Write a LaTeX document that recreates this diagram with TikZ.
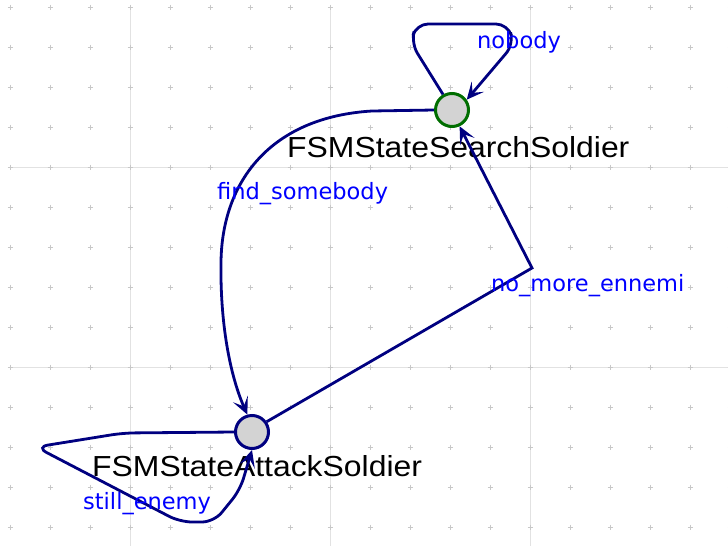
\documentclass[tikz,border=0pt]{standalone}
\usepackage{fontspec}
\usepackage{graphicx}
\setmainfont{Liberation Sans}
\newfontfamily\edgefont{DejaVu Sans}
\usetikzlibrary{arrows.meta}
\definecolor{edgenavy}{RGB}{0,0,128}
\definecolor{searchgreen}{RGB}{0,110,0}
\definecolor{stategrey}{RGB}{211,211,211}
\definecolor{labelblue}{RGB}{0,0,255}
\definecolor{gridgrey}{RGB}{226,226,226}
\definecolor{dotgrey}{RGB}{200,200,200}

\begin{document}
\begin{tikzpicture}[
  x=1pt,y=-1pt,
  >={Stealth[length=17pt,width=16pt,inset=8pt]},
  state/.style={circle,draw=edgenavy,line width=3pt,fill=stategrey,minimum size=33pt,inner sep=0pt},
  edge/.style={->,draw=edgenavy,line width=2.8pt,rounded corners=12pt},
  statename/.style={anchor=base west,inner sep=0pt,font=\fontsize{29}{29}\selectfont},
  edgename/.style={anchor=base west,inner sep=0pt,text=labelblue,font=\edgefont\fontsize{22.5}{22.5}\selectfont},
  gridline/.style={draw=gridgrey,line width=1pt},
  griddot/.style={draw=dotgrey,line width=1pt}
]
\useasboundingbox (0,0) rectangle (728,546);

% --- Grid ---
\foreach \gx in {130,330,530} \draw[gridline] (\gx,7) -- (\gx,546);
\foreach \gy in {167,367} \draw[gridline] (10,\gy) -- (728,\gy);
\foreach \gx in {10,50,...,730}
  \foreach \gy in {7,47,...,527}
    \draw[griddot] (\gx-2.5,\gy) -- (\gx+2.5,\gy) (\gx,\gy-2.5) -- (\gx,\gy+2.5);

% --- Nodes ---
\node[state,draw=searchgreen] (search) at (452,110) {};
\node[state] (attack) at (252,432) {};
\node[statename] (searchname) at (287,157) {\scalebox{1.1}[1]{FSMStateSearchSoldier}};
\node[statename] (attackname) at (92,476) {\scalebox{1.1}[1]{FSMStateAttackSoldier}};

% --- Transitions ---
% search -> search
\draw[edge] (search.120) -- (411,43) -- (416,24) -- (508,24) -- (514,44) -- (search.35);
% search -> attack
\draw[edge,rounded corners=0pt] (search.west) -- (372,111)
  .. controls (272,117) and (222,180) .. (221,262)
  .. controls (220,330) and (232,380) .. (attack.105);
% attack -> search
\draw[edge,rounded corners=0pt] (attack.35) -- (532,268) -- (search.-65);
% attack -> attack
\draw[edge] (attack.west) -- (123,433) -- (36,447) -- (180,522) -- (214,522) -- (240,490) -- (attack.south);

% --- Labels ---
\node[edgename] (nobody) at (477,48) {nobody};
\node[edgename] (findsomebody) at (217,199) {find\_somebody};
\node[edgename] (nomoreennemi) at (491,291) {no\_more\_ennemi};
\node[edgename] (stillenemy) at (83,509) {still\_enemy};

\end{tikzpicture}
\end{document}
